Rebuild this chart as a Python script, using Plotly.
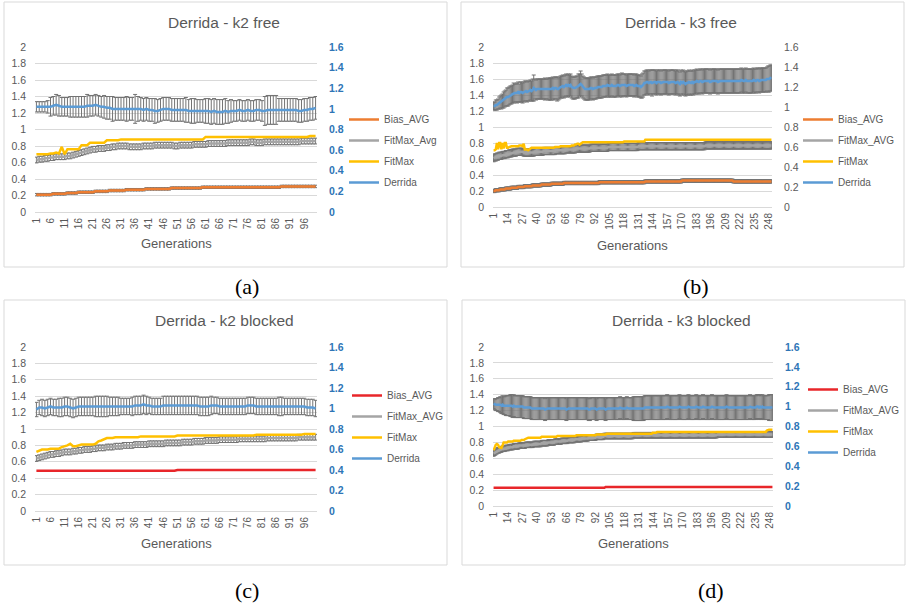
import plotly.graph_objects as go

W, H = 907, 603

# ---------------------------------------------------------------- data
GEN_100 = list(range(1, 101))
GEN_250 = list(range(1, 251))
TICKS_100 = list(range(1, 100, 5))    # 1, 6, ..., 96
TICKS_250 = list(range(1, 250, 13))   # 1, 14, ..., 248

# k2 free (100 generations); Derrida on the secondary axis
A_BIAS = [
    0.21, 0.21, 0.21, 0.21, 0.21, 0.21, 0.22, 0.22, 0.22, 0.22,
    0.22, 0.23, 0.23, 0.23, 0.23, 0.24, 0.24, 0.24, 0.24, 0.24,
    0.24, 0.25, 0.25, 0.25, 0.25, 0.25, 0.26, 0.26, 0.26, 0.26,
    0.26, 0.26, 0.27, 0.27, 0.27, 0.27, 0.27, 0.27, 0.27, 0.28,
    0.28, 0.28, 0.28, 0.28, 0.28, 0.28, 0.28, 0.28, 0.29, 0.29,
    0.29, 0.29, 0.29, 0.29, 0.29, 0.29, 0.29, 0.29, 0.29, 0.30,
    0.30, 0.30, 0.30, 0.30, 0.30, 0.30, 0.30, 0.30, 0.30, 0.30,
    0.30, 0.30, 0.30, 0.30, 0.30, 0.30, 0.30, 0.30, 0.30, 0.30,
    0.30, 0.30, 0.30, 0.30, 0.30, 0.30, 0.30, 0.31, 0.31, 0.31,
    0.31, 0.31, 0.31, 0.31, 0.31, 0.31, 0.31, 0.31, 0.31, 0.31]
A_FITAVG = [
    0.63, 0.64, 0.64, 0.65, 0.65, 0.66, 0.66, 0.67, 0.67, 0.67,
    0.67, 0.68, 0.68, 0.69, 0.70, 0.71, 0.72, 0.73, 0.74, 0.75,
    0.76, 0.76, 0.77, 0.77, 0.77, 0.78, 0.78, 0.79, 0.79, 0.80,
    0.80, 0.80, 0.80, 0.79, 0.79, 0.79, 0.79, 0.79, 0.80, 0.80,
    0.80, 0.80, 0.81, 0.81, 0.81, 0.81, 0.81, 0.81, 0.81, 0.80,
    0.80, 0.81, 0.81, 0.81, 0.81, 0.81, 0.82, 0.82, 0.82, 0.82,
    0.82, 0.83, 0.83, 0.83, 0.83, 0.83, 0.83, 0.83, 0.84, 0.84,
    0.84, 0.84, 0.84, 0.84, 0.84, 0.84, 0.85, 0.85, 0.84, 0.84,
    0.84, 0.85, 0.85, 0.85, 0.85, 0.85, 0.85, 0.85, 0.85, 0.85,
    0.85, 0.85, 0.85, 0.85, 0.86, 0.86, 0.86, 0.86, 0.86, 0.86]
A_FITMAX = [
    0.70, 0.70, 0.70, 0.70, 0.70, 0.71, 0.71, 0.72, 0.71, 0.79,
    0.70, 0.76, 0.76, 0.76, 0.76, 0.76, 0.81, 0.81, 0.81, 0.84,
    0.84, 0.84, 0.84, 0.84, 0.84, 0.87, 0.87, 0.87, 0.87, 0.87,
    0.88, 0.88, 0.88, 0.88, 0.88, 0.88, 0.88, 0.88, 0.88, 0.88,
    0.88, 0.88, 0.88, 0.88, 0.88, 0.88, 0.88, 0.88, 0.88, 0.88,
    0.88, 0.88, 0.88, 0.88, 0.88, 0.88, 0.88, 0.88, 0.88, 0.88,
    0.91, 0.91, 0.91, 0.91, 0.91, 0.91, 0.91, 0.91, 0.91, 0.91,
    0.91, 0.91, 0.91, 0.91, 0.91, 0.91, 0.91, 0.91, 0.91, 0.91,
    0.91, 0.91, 0.91, 0.91, 0.91, 0.91, 0.91, 0.91, 0.91, 0.91,
    0.91, 0.91, 0.91, 0.91, 0.91, 0.91, 0.91, 0.92, 0.92, 0.92]
A_DERRIDA = [
    1.02, 1.02, 1.02, 1.02, 1.02, 1.02, 1.03, 1.04, 1.03, 1.02,
    1.02, 1.02, 1.02, 1.02, 1.02, 1.02, 1.02, 1.02, 1.03, 1.03,
    1.03, 1.04, 1.03, 1.02, 1.02, 1.01, 1.01, 1.00, 1.00, 1.00,
    1.00, 1.00, 1.00, 1.00, 1.00, 1.00, 1.00, 1.00, 0.99, 1.00,
    0.99, 0.99, 0.98, 0.98, 0.99, 1.00, 1.00, 1.00, 0.99, 0.99,
    0.99, 0.99, 0.99, 0.99, 0.98, 0.98, 0.98, 0.98, 0.98, 0.98,
    0.98, 0.98, 0.97, 0.98, 0.97, 0.97, 0.97, 0.98, 0.97, 0.98,
    0.98, 0.98, 0.99, 0.98, 0.98, 0.99, 0.98, 0.98, 0.99, 0.99,
    0.98, 0.98, 0.99, 0.99, 0.99, 0.99, 0.99, 0.99, 0.99, 0.99,
    0.99, 0.99, 0.99, 0.98, 0.98, 0.99, 0.99, 1.00, 1.00, 1.01]
A_DERRIDA_ERR = [
    0.05, 0.05, 0.05, 0.05, 0.06, 0.09, 0.09, 0.10, 0.10, 0.09,
    0.09, 0.09, 0.10, 0.10, 0.10, 0.10, 0.10, 0.10, 0.11, 0.10,
    0.10, 0.10, 0.10, 0.10, 0.11, 0.11, 0.11, 0.12, 0.11, 0.11,
    0.11, 0.11, 0.12, 0.11, 0.11, 0.14, 0.12, 0.11, 0.11, 0.11,
    0.11, 0.11, 0.12, 0.11, 0.11, 0.11, 0.11, 0.11, 0.11, 0.11,
    0.11, 0.11, 0.11, 0.12, 0.11, 0.12, 0.12, 0.11, 0.11, 0.11,
    0.12, 0.12, 0.12, 0.12, 0.12, 0.12, 0.12, 0.12, 0.11, 0.11,
    0.10, 0.10, 0.10, 0.10, 0.10, 0.10, 0.10, 0.10, 0.10, 0.10,
    0.10, 0.14, 0.14, 0.14, 0.14, 0.14, 0.11, 0.11, 0.11, 0.11,
    0.11, 0.11, 0.11, 0.11, 0.11, 0.11, 0.11, 0.11, 0.11, 0.11]
A_BIAS_ERR = 0.015
A_FITAVG_ERR = 0.035

# k3 free (250 generations)
B_BIAS = [
    0.20, 0.20, 0.21, 0.21, 0.21, 0.21, 0.22, 0.22, 0.22, 0.22,
    0.22, 0.23, 0.23, 0.23, 0.23, 0.23, 0.24, 0.24, 0.24, 0.24,
    0.24, 0.24, 0.25, 0.25, 0.25, 0.25, 0.25, 0.25, 0.26, 0.26,
    0.26, 0.26, 0.26, 0.26, 0.26, 0.27, 0.27, 0.27, 0.27, 0.27,
    0.27, 0.27, 0.27, 0.28, 0.28, 0.28, 0.28, 0.28, 0.28, 0.28,
    0.28, 0.28, 0.29, 0.29, 0.29, 0.29, 0.29, 0.29, 0.29, 0.29,
    0.29, 0.29, 0.29, 0.30, 0.30, 0.30, 0.30, 0.30, 0.30, 0.30,
    0.30, 0.30, 0.30, 0.30, 0.30, 0.30, 0.30, 0.30, 0.30, 0.30,
    0.30, 0.30, 0.30, 0.30, 0.30, 0.30, 0.30, 0.30, 0.30, 0.30,
    0.30, 0.30, 0.30, 0.30, 0.30, 0.31, 0.31, 0.31, 0.31, 0.31,
    0.31, 0.31, 0.31, 0.31, 0.31, 0.31, 0.31, 0.31, 0.31, 0.31,
    0.31, 0.31, 0.31, 0.31, 0.31, 0.31, 0.31, 0.31, 0.31, 0.31,
    0.31, 0.31, 0.31, 0.31, 0.31, 0.31, 0.31, 0.31, 0.31, 0.31,
    0.31, 0.31, 0.31, 0.31, 0.31, 0.31, 0.32, 0.32, 0.32, 0.32,
    0.32, 0.32, 0.32, 0.32, 0.32, 0.32, 0.32, 0.32, 0.32, 0.32,
    0.32, 0.32, 0.32, 0.32, 0.32, 0.32, 0.32, 0.32, 0.32, 0.32,
    0.32, 0.32, 0.32, 0.32, 0.32, 0.32, 0.32, 0.32, 0.32, 0.33,
    0.33, 0.33, 0.33, 0.33, 0.33, 0.33, 0.33, 0.33, 0.33, 0.33,
    0.33, 0.33, 0.33, 0.33, 0.33, 0.33, 0.33, 0.33, 0.33, 0.33,
    0.33, 0.33, 0.33, 0.33, 0.33, 0.33, 0.33, 0.33, 0.33, 0.33,
    0.33, 0.33, 0.33, 0.33, 0.33, 0.33, 0.33, 0.33, 0.33, 0.33,
    0.33, 0.33, 0.33, 0.33, 0.33, 0.32, 0.32, 0.32, 0.32, 0.32,
    0.32, 0.32, 0.32, 0.32, 0.32, 0.32, 0.32, 0.32, 0.32, 0.32,
    0.32, 0.32, 0.32, 0.32, 0.32, 0.32, 0.32, 0.32, 0.32, 0.32,
    0.32, 0.32, 0.32, 0.32, 0.32, 0.32, 0.32, 0.32, 0.32, 0.32]
B_FITAVG = [
    0.61, 0.62, 0.62, 0.63, 0.63, 0.64, 0.64, 0.64, 0.65, 0.65,
    0.65, 0.66, 0.66, 0.66, 0.67, 0.67, 0.67, 0.68, 0.68, 0.68,
    0.68, 0.69, 0.69, 0.69, 0.69, 0.69, 0.69, 0.68, 0.68, 0.68,
    0.68, 0.68, 0.68, 0.68, 0.68, 0.68, 0.68, 0.69, 0.69, 0.69,
    0.69, 0.69, 0.69, 0.69, 0.69, 0.70, 0.70, 0.70, 0.70, 0.70,
    0.70, 0.70, 0.70, 0.70, 0.70, 0.70, 0.71, 0.71, 0.71, 0.71,
    0.71, 0.71, 0.71, 0.71, 0.71, 0.72, 0.72, 0.72, 0.72, 0.72,
    0.72, 0.72, 0.72, 0.72, 0.73, 0.73, 0.73, 0.73, 0.73, 0.73,
    0.73, 0.73, 0.73, 0.73, 0.73, 0.73, 0.73, 0.74, 0.74, 0.74,
    0.74, 0.74, 0.74, 0.74, 0.74, 0.74, 0.74, 0.74, 0.74, 0.74,
    0.74, 0.74, 0.74, 0.75, 0.75, 0.75, 0.75, 0.75, 0.75, 0.75,
    0.75, 0.75, 0.75, 0.75, 0.75, 0.75, 0.75, 0.75, 0.75, 0.75,
    0.75, 0.75, 0.75, 0.75, 0.75, 0.75, 0.75, 0.75, 0.75, 0.75,
    0.76, 0.76, 0.76, 0.76, 0.76, 0.76, 0.76, 0.76, 0.76, 0.76,
    0.76, 0.76, 0.76, 0.76, 0.76, 0.76, 0.76, 0.76, 0.76, 0.76,
    0.76, 0.76, 0.76, 0.76, 0.76, 0.76, 0.76, 0.76, 0.76, 0.76,
    0.76, 0.76, 0.76, 0.76, 0.76, 0.76, 0.76, 0.76, 0.76, 0.76,
    0.76, 0.76, 0.76, 0.76, 0.76, 0.76, 0.76, 0.76, 0.76, 0.76,
    0.76, 0.76, 0.76, 0.76, 0.76, 0.76, 0.76, 0.76, 0.76, 0.76,
    0.77, 0.77, 0.77, 0.77, 0.77, 0.77, 0.77, 0.77, 0.77, 0.77,
    0.77, 0.77, 0.77, 0.77, 0.77, 0.77, 0.77, 0.77, 0.77, 0.77,
    0.77, 0.77, 0.77, 0.77, 0.77, 0.77, 0.77, 0.77, 0.77, 0.77,
    0.77, 0.77, 0.77, 0.77, 0.77, 0.77, 0.77, 0.77, 0.77, 0.77,
    0.77, 0.77, 0.77, 0.77, 0.77, 0.77, 0.77, 0.77, 0.77, 0.77,
    0.77, 0.77, 0.77, 0.77, 0.77, 0.77, 0.77, 0.77, 0.77, 0.77]
B_FITMAX = [
    0.71, 0.71, 0.72, 0.80, 0.72, 0.80, 0.80, 0.72, 0.80, 0.73,
    0.80, 0.80, 0.74, 0.74, 0.75, 0.76, 0.76, 0.76, 0.76, 0.76,
    0.76, 0.76, 0.76, 0.77, 0.77, 0.77, 0.76, 0.79, 0.72, 0.72,
    0.72, 0.71, 0.72, 0.74, 0.74, 0.74, 0.74, 0.74, 0.74, 0.74,
    0.74, 0.74, 0.74, 0.74, 0.74, 0.74, 0.74, 0.74, 0.74, 0.74,
    0.74, 0.74, 0.74, 0.74, 0.74, 0.75, 0.75, 0.75, 0.75, 0.75,
    0.76, 0.76, 0.76, 0.76, 0.76, 0.76, 0.76, 0.76, 0.76, 0.76,
    0.77, 0.77, 0.77, 0.78, 0.78, 0.79, 0.79, 0.78, 0.79, 0.81,
    0.81, 0.81, 0.81, 0.81, 0.81, 0.81, 0.81, 0.81, 0.81, 0.81,
    0.81, 0.81, 0.81, 0.81, 0.81, 0.81, 0.81, 0.81, 0.81, 0.81,
    0.81, 0.81, 0.81, 0.81, 0.81, 0.81, 0.81, 0.81, 0.81, 0.81,
    0.81, 0.81, 0.81, 0.81, 0.81, 0.81, 0.81, 0.82, 0.82, 0.82,
    0.82, 0.82, 0.82, 0.82, 0.82, 0.82, 0.82, 0.82, 0.82, 0.82,
    0.82, 0.82, 0.82, 0.82, 0.82, 0.82, 0.84, 0.84, 0.84, 0.84,
    0.84, 0.84, 0.84, 0.84, 0.84, 0.84, 0.84, 0.84, 0.84, 0.84,
    0.84, 0.84, 0.84, 0.84, 0.84, 0.84, 0.84, 0.84, 0.84, 0.84,
    0.84, 0.84, 0.84, 0.84, 0.84, 0.84, 0.84, 0.84, 0.84, 0.84,
    0.84, 0.84, 0.84, 0.84, 0.84, 0.84, 0.84, 0.84, 0.84, 0.84,
    0.84, 0.84, 0.84, 0.84, 0.84, 0.84, 0.84, 0.84, 0.84, 0.84,
    0.84, 0.84, 0.84, 0.84, 0.84, 0.84, 0.84, 0.84, 0.84, 0.84,
    0.84, 0.84, 0.84, 0.84, 0.84, 0.84, 0.84, 0.84, 0.84, 0.84,
    0.84, 0.84, 0.84, 0.84, 0.84, 0.84, 0.84, 0.84, 0.84, 0.84,
    0.84, 0.84, 0.84, 0.84, 0.84, 0.84, 0.84, 0.84, 0.84, 0.84,
    0.84, 0.84, 0.84, 0.84, 0.84, 0.84, 0.84, 0.84, 0.84, 0.84,
    0.84, 0.84, 0.84, 0.84, 0.84, 0.84, 0.84, 0.84, 0.84, 0.84]
B_DERRIDA = [
    1.01, 1.01, 1.02, 1.02, 1.03, 1.04, 1.05, 1.05, 1.06, 1.07,
    1.08, 1.09, 1.10, 1.10, 1.11, 1.12, 1.12, 1.13, 1.14, 1.14,
    1.14, 1.14, 1.15, 1.14, 1.15, 1.15, 1.14, 1.15, 1.16, 1.16,
    1.15, 1.16, 1.16, 1.17, 1.16, 1.17, 1.19, 1.18, 1.17, 1.18,
    1.18, 1.18, 1.18, 1.18, 1.18, 1.18, 1.18, 1.18, 1.18, 1.18,
    1.18, 1.18, 1.18, 1.19, 1.18, 1.19, 1.19, 1.18, 1.18, 1.19,
    1.20, 1.20, 1.21, 1.20, 1.21, 1.22, 1.21, 1.22, 1.21, 1.22,
    1.20, 1.19, 1.19, 1.19, 1.20, 1.20, 1.21, 1.22, 1.23, 1.22,
    1.20, 1.19, 1.18, 1.18, 1.18, 1.18, 1.18, 1.19, 1.19, 1.18,
    1.19, 1.19, 1.19, 1.20, 1.20, 1.20, 1.20, 1.20, 1.21, 1.21,
    1.21, 1.21, 1.22, 1.21, 1.21, 1.21, 1.22, 1.21, 1.21, 1.21,
    1.21, 1.22, 1.22, 1.21, 1.22, 1.22, 1.22, 1.22, 1.22, 1.21,
    1.22, 1.22, 1.22, 1.22, 1.22, 1.22, 1.21, 1.22, 1.22, 1.21,
    1.21, 1.21, 1.20, 1.21, 1.22, 1.24, 1.24, 1.25, 1.25, 1.24,
    1.25, 1.25, 1.24, 1.25, 1.25, 1.25, 1.24, 1.25, 1.25, 1.25,
    1.24, 1.25, 1.25, 1.25, 1.25, 1.25, 1.25, 1.24, 1.25, 1.25,
    1.25, 1.25, 1.25, 1.24, 1.25, 1.25, 1.24, 1.23, 1.25, 1.24,
    1.25, 1.24, 1.23, 1.24, 1.24, 1.25, 1.24, 1.24, 1.25, 1.24,
    1.25, 1.25, 1.26, 1.25, 1.25, 1.26, 1.26, 1.25, 1.26, 1.26,
    1.26, 1.26, 1.26, 1.26, 1.25, 1.26, 1.26, 1.26, 1.26, 1.26,
    1.26, 1.25, 1.26, 1.26, 1.26, 1.26, 1.26, 1.26, 1.26, 1.26,
    1.26, 1.26, 1.26, 1.26, 1.26, 1.26, 1.26, 1.26, 1.26, 1.26,
    1.26, 1.26, 1.27, 1.26, 1.26, 1.26, 1.27, 1.26, 1.26, 1.26,
    1.26, 1.26, 1.26, 1.27, 1.26, 1.26, 1.27, 1.27, 1.26, 1.27,
    1.27, 1.27, 1.27, 1.27, 1.27, 1.28, 1.28, 1.28, 1.29, 1.29]
B_DERRIDA_ERR = [
    0.04, 0.04, 0.05, 0.05, 0.05, 0.06, 0.06, 0.07, 0.07, 0.08,
    0.08, 0.08, 0.09, 0.09, 0.09, 0.09, 0.09, 0.09, 0.10, 0.09,
    0.09, 0.10, 0.10, 0.09, 0.10, 0.10, 0.10, 0.10, 0.10, 0.10,
    0.10, 0.10, 0.10, 0.10, 0.10, 0.11, 0.13, 0.10, 0.10, 0.10,
    0.10, 0.10, 0.10, 0.10, 0.10, 0.10, 0.11, 0.10, 0.10, 0.11,
    0.11, 0.11, 0.11, 0.11, 0.11, 0.11, 0.11, 0.12, 0.11, 0.11,
    0.11, 0.11, 0.11, 0.11, 0.11, 0.11, 0.11, 0.11, 0.11, 0.11,
    0.11, 0.11, 0.11, 0.11, 0.11, 0.11, 0.12, 0.11, 0.13, 0.11,
    0.11, 0.11, 0.11, 0.11, 0.11, 0.11, 0.11, 0.11, 0.11, 0.11,
    0.11, 0.11, 0.11, 0.11, 0.11, 0.11, 0.11, 0.11, 0.11, 0.11,
    0.11, 0.11, 0.11, 0.11, 0.11, 0.11, 0.11, 0.11, 0.11, 0.11,
    0.11, 0.11, 0.11, 0.11, 0.11, 0.12, 0.11, 0.11, 0.11, 0.11,
    0.11, 0.11, 0.11, 0.11, 0.11, 0.11, 0.11, 0.11, 0.11, 0.11,
    0.11, 0.11, 0.11, 0.12, 0.12, 0.12, 0.12, 0.12, 0.12, 0.12,
    0.12, 0.12, 0.13, 0.12, 0.12, 0.12, 0.12, 0.12, 0.12, 0.12,
    0.12, 0.12, 0.12, 0.12, 0.12, 0.12, 0.12, 0.12, 0.12, 0.12,
    0.12, 0.12, 0.12, 0.12, 0.12, 0.12, 0.12, 0.12, 0.12, 0.12,
    0.12, 0.12, 0.12, 0.12, 0.12, 0.12, 0.12, 0.12, 0.12, 0.12,
    0.12, 0.12, 0.12, 0.12, 0.12, 0.12, 0.12, 0.12, 0.12, 0.12,
    0.12, 0.12, 0.12, 0.12, 0.12, 0.12, 0.12, 0.12, 0.12, 0.12,
    0.12, 0.12, 0.12, 0.12, 0.12, 0.12, 0.12, 0.12, 0.12, 0.12,
    0.12, 0.12, 0.12, 0.12, 0.12, 0.12, 0.12, 0.12, 0.12, 0.12,
    0.12, 0.12, 0.12, 0.12, 0.12, 0.12, 0.12, 0.12, 0.12, 0.12,
    0.12, 0.12, 0.12, 0.12, 0.12, 0.12, 0.12, 0.12, 0.12, 0.12,
    0.12, 0.12, 0.12, 0.12, 0.12, 0.12, 0.13, 0.13, 0.13, 0.13]
B_BIAS_ERR = 0.02
B_FITAVG_ERR = 0.045

# k2 blocked (100 generations)
C_BIAS = [
    0.49, 0.49, 0.49, 0.49, 0.49, 0.49, 0.49, 0.49, 0.49, 0.49,
    0.49, 0.49, 0.49, 0.49, 0.49, 0.49, 0.49, 0.49, 0.49, 0.49,
    0.49, 0.49, 0.49, 0.49, 0.49, 0.49, 0.49, 0.49, 0.49, 0.49,
    0.49, 0.49, 0.49, 0.49, 0.49, 0.49, 0.49, 0.49, 0.49, 0.49,
    0.49, 0.49, 0.49, 0.49, 0.49, 0.49, 0.49, 0.49, 0.49, 0.49,
    0.50, 0.50, 0.50, 0.50, 0.50, 0.50, 0.50, 0.50, 0.50, 0.50,
    0.50, 0.50, 0.50, 0.50, 0.50, 0.50, 0.50, 0.50, 0.50, 0.50,
    0.50, 0.50, 0.50, 0.50, 0.50, 0.50, 0.50, 0.50, 0.50, 0.50,
    0.50, 0.50, 0.50, 0.50, 0.50, 0.50, 0.50, 0.50, 0.50, 0.50,
    0.50, 0.50, 0.50, 0.50, 0.50, 0.50, 0.50, 0.50, 0.50, 0.50]
C_FITAVG = [
    0.64, 0.65, 0.66, 0.67, 0.68, 0.69, 0.69, 0.70, 0.70, 0.71,
    0.72, 0.72, 0.72, 0.73, 0.73, 0.74, 0.74, 0.75, 0.75, 0.75,
    0.76, 0.76, 0.77, 0.77, 0.77, 0.78, 0.78, 0.78, 0.79, 0.79,
    0.79, 0.80, 0.80, 0.80, 0.80, 0.81, 0.81, 0.81, 0.81, 0.81,
    0.82, 0.82, 0.82, 0.82, 0.82, 0.82, 0.83, 0.83, 0.83, 0.83,
    0.83, 0.83, 0.84, 0.84, 0.84, 0.84, 0.85, 0.85, 0.85, 0.85,
    0.86, 0.86, 0.86, 0.86, 0.86, 0.87, 0.87, 0.87, 0.87, 0.87,
    0.87, 0.87, 0.88, 0.88, 0.88, 0.88, 0.88, 0.88, 0.88, 0.88,
    0.88, 0.88, 0.89, 0.89, 0.89, 0.89, 0.89, 0.89, 0.89, 0.89,
    0.89, 0.89, 0.89, 0.90, 0.90, 0.90, 0.90, 0.90, 0.90, 0.90]
C_FITMAX = [
    0.72, 0.74, 0.75, 0.75, 0.75, 0.76, 0.76, 0.76, 0.76, 0.78,
    0.79, 0.80, 0.82, 0.79, 0.79, 0.80, 0.81, 0.81, 0.81, 0.81,
    0.81, 0.82, 0.85, 0.86, 0.88, 0.89, 0.89, 0.89, 0.90, 0.90,
    0.90, 0.90, 0.90, 0.90, 0.90, 0.90, 0.90, 0.91, 0.91, 0.91,
    0.91, 0.91, 0.91, 0.91, 0.91, 0.91, 0.91, 0.91, 0.91, 0.91,
    0.92, 0.92, 0.92, 0.92, 0.92, 0.92, 0.92, 0.92, 0.92, 0.92,
    0.92, 0.92, 0.92, 0.92, 0.92, 0.92, 0.92, 0.92, 0.92, 0.92,
    0.92, 0.92, 0.92, 0.92, 0.92, 0.92, 0.92, 0.92, 0.93, 0.93,
    0.93, 0.93, 0.93, 0.93, 0.93, 0.93, 0.93, 0.93, 0.93, 0.93,
    0.93, 0.93, 0.93, 0.93, 0.93, 0.94, 0.94, 0.94, 0.94, 0.94]
C_DERRIDA = [
    0.99, 1.01, 1.01, 1.00, 1.01, 1.02, 1.01, 1.01, 1.01, 1.01,
    1.02, 1.02, 1.01, 1.00, 1.01, 1.02, 1.02, 1.02, 1.02, 1.02,
    1.02, 1.02, 1.02, 1.02, 1.02, 1.02, 1.02, 1.02, 1.02, 1.02,
    1.02, 1.02, 1.02, 1.02, 1.02, 1.03, 1.03, 1.03, 1.04, 1.03,
    1.03, 1.02, 1.02, 1.02, 1.02, 1.03, 1.03, 1.03, 1.03, 1.03,
    1.03, 1.03, 1.03, 1.03, 1.03, 1.03, 1.03, 1.03, 1.02, 1.02,
    1.02, 1.02, 1.03, 1.03, 1.03, 1.02, 1.02, 1.02, 1.02, 1.02,
    1.02, 1.02, 1.02, 1.02, 1.02, 1.03, 1.03, 1.03, 1.02, 1.02,
    1.02, 1.02, 1.02, 1.02, 1.02, 1.02, 1.02, 1.02, 1.02, 1.02,
    1.02, 1.02, 1.02, 1.02, 1.02, 1.02, 1.01, 1.01, 1.01, 1.00]
C_DERRIDA_ERR = [
    0.07, 0.07, 0.08, 0.08, 0.08, 0.08, 0.08, 0.08, 0.09, 0.09,
    0.09, 0.09, 0.09, 0.09, 0.09, 0.09, 0.09, 0.09, 0.09, 0.09,
    0.09, 0.10, 0.10, 0.10, 0.10, 0.10, 0.09, 0.09, 0.09, 0.09,
    0.08, 0.08, 0.08, 0.08, 0.09, 0.09, 0.09, 0.09, 0.09, 0.09,
    0.08, 0.08, 0.08, 0.08, 0.08, 0.09, 0.09, 0.09, 0.09, 0.09,
    0.09, 0.09, 0.09, 0.09, 0.09, 0.09, 0.09, 0.09, 0.09, 0.09,
    0.09, 0.09, 0.09, 0.08, 0.08, 0.08, 0.08, 0.08, 0.08, 0.08,
    0.08, 0.08, 0.08, 0.08, 0.08, 0.08, 0.08, 0.08, 0.08, 0.08,
    0.08, 0.08, 0.08, 0.08, 0.08, 0.08, 0.09, 0.09, 0.08, 0.08,
    0.08, 0.08, 0.08, 0.08, 0.08, 0.08, 0.08, 0.08, 0.08, 0.08]
C_FITAVG_ERR = 0.035

# k3 blocked (250 generations)
D_BIAS = [
    0.23, 0.23, 0.23, 0.23, 0.23, 0.23, 0.23, 0.23, 0.23, 0.23,
    0.23, 0.23, 0.23, 0.23, 0.23, 0.23, 0.23, 0.23, 0.23, 0.23,
    0.23, 0.23, 0.23, 0.23, 0.23, 0.23, 0.23, 0.23, 0.23, 0.23,
    0.23, 0.23, 0.23, 0.23, 0.23, 0.23, 0.23, 0.23, 0.23, 0.23,
    0.23, 0.23, 0.23, 0.23, 0.23, 0.23, 0.23, 0.23, 0.23, 0.23,
    0.23, 0.23, 0.23, 0.23, 0.23, 0.23, 0.23, 0.23, 0.23, 0.23,
    0.23, 0.23, 0.23, 0.23, 0.23, 0.23, 0.23, 0.23, 0.23, 0.23,
    0.23, 0.23, 0.23, 0.23, 0.23, 0.23, 0.23, 0.23, 0.23, 0.23,
    0.23, 0.23, 0.23, 0.23, 0.23, 0.23, 0.23, 0.23, 0.23, 0.23,
    0.23, 0.23, 0.23, 0.23, 0.23, 0.23, 0.23, 0.23, 0.23, 0.23,
    0.24, 0.24, 0.24, 0.24, 0.24, 0.24, 0.24, 0.24, 0.24, 0.24,
    0.24, 0.24, 0.24, 0.24, 0.24, 0.24, 0.24, 0.24, 0.24, 0.24,
    0.24, 0.24, 0.24, 0.24, 0.24, 0.24, 0.24, 0.24, 0.24, 0.24,
    0.24, 0.24, 0.24, 0.24, 0.24, 0.24, 0.24, 0.24, 0.24, 0.24,
    0.24, 0.24, 0.24, 0.24, 0.24, 0.24, 0.24, 0.24, 0.24, 0.24,
    0.24, 0.24, 0.24, 0.24, 0.24, 0.24, 0.24, 0.24, 0.24, 0.24,
    0.24, 0.24, 0.24, 0.24, 0.24, 0.24, 0.24, 0.24, 0.24, 0.24,
    0.24, 0.24, 0.24, 0.24, 0.24, 0.24, 0.24, 0.24, 0.24, 0.24,
    0.24, 0.24, 0.24, 0.24, 0.24, 0.24, 0.24, 0.24, 0.24, 0.24,
    0.24, 0.24, 0.24, 0.24, 0.24, 0.24, 0.24, 0.24, 0.24, 0.24,
    0.24, 0.24, 0.24, 0.24, 0.24, 0.24, 0.24, 0.24, 0.24, 0.24,
    0.24, 0.24, 0.24, 0.24, 0.24, 0.24, 0.24, 0.24, 0.24, 0.24,
    0.24, 0.24, 0.24, 0.24, 0.24, 0.24, 0.24, 0.24, 0.24, 0.24,
    0.24, 0.24, 0.24, 0.24, 0.24, 0.24, 0.24, 0.24, 0.24, 0.24,
    0.24, 0.24, 0.24, 0.24, 0.24, 0.24, 0.24, 0.24, 0.24, 0.24]
D_FITAVG = [
    0.66, 0.67, 0.68, 0.69, 0.70, 0.70, 0.71, 0.71, 0.72, 0.72,
    0.72, 0.73, 0.73, 0.73, 0.74, 0.74, 0.74, 0.74, 0.75, 0.75,
    0.75, 0.75, 0.75, 0.76, 0.76, 0.76, 0.76, 0.76, 0.76, 0.77,
    0.77, 0.77, 0.77, 0.77, 0.77, 0.77, 0.78, 0.78, 0.78, 0.78,
    0.78, 0.78, 0.78, 0.79, 0.79, 0.79, 0.79, 0.79, 0.79, 0.80,
    0.80, 0.80, 0.80, 0.80, 0.80, 0.81, 0.81, 0.81, 0.81, 0.81,
    0.81, 0.82, 0.82, 0.82, 0.82, 0.82, 0.82, 0.83, 0.83, 0.83,
    0.83, 0.83, 0.83, 0.84, 0.84, 0.84, 0.84, 0.84, 0.84, 0.85,
    0.85, 0.85, 0.85, 0.85, 0.85, 0.86, 0.86, 0.86, 0.86, 0.86,
    0.86, 0.86, 0.87, 0.87, 0.87, 0.87, 0.87, 0.87, 0.87, 0.88,
    0.88, 0.88, 0.88, 0.88, 0.88, 0.88, 0.88, 0.88, 0.88, 0.88,
    0.88, 0.88, 0.88, 0.88, 0.88, 0.88, 0.88, 0.88, 0.88, 0.88,
    0.88, 0.88, 0.88, 0.88, 0.88, 0.89, 0.89, 0.89, 0.89, 0.89,
    0.89, 0.89, 0.89, 0.89, 0.89, 0.89, 0.89, 0.89, 0.89, 0.89,
    0.89, 0.89, 0.89, 0.89, 0.89, 0.89, 0.89, 0.89, 0.89, 0.89,
    0.89, 0.89, 0.89, 0.89, 0.89, 0.89, 0.89, 0.89, 0.89, 0.89,
    0.89, 0.89, 0.89, 0.89, 0.89, 0.89, 0.89, 0.89, 0.89, 0.89,
    0.89, 0.89, 0.89, 0.89, 0.89, 0.89, 0.89, 0.89, 0.89, 0.89,
    0.89, 0.89, 0.89, 0.89, 0.89, 0.89, 0.89, 0.89, 0.89, 0.89,
    0.89, 0.89, 0.89, 0.89, 0.89, 0.89, 0.89, 0.89, 0.89, 0.89,
    0.90, 0.90, 0.90, 0.90, 0.90, 0.90, 0.90, 0.90, 0.90, 0.90,
    0.90, 0.90, 0.90, 0.90, 0.90, 0.90, 0.90, 0.90, 0.90, 0.90,
    0.90, 0.90, 0.90, 0.90, 0.90, 0.90, 0.90, 0.90, 0.90, 0.90,
    0.90, 0.90, 0.90, 0.90, 0.90, 0.90, 0.90, 0.90, 0.90, 0.90,
    0.90, 0.90, 0.90, 0.90, 0.90, 0.90, 0.90, 0.90, 0.90, 0.90]
D_FITMAX = [
    0.70, 0.74, 0.77, 0.78, 0.77, 0.74, 0.73, 0.73, 0.76, 0.80,
    0.80, 0.80, 0.80, 0.81, 0.81, 0.81, 0.81, 0.81, 0.82, 0.82,
    0.82, 0.82, 0.82, 0.82, 0.82, 0.83, 0.83, 0.83, 0.84, 0.85,
    0.86, 0.86, 0.86, 0.86, 0.86, 0.86, 0.86, 0.86, 0.86, 0.86,
    0.86, 0.86, 0.86, 0.87, 0.87, 0.87, 0.87, 0.87, 0.87, 0.87,
    0.87, 0.87, 0.87, 0.87, 0.87, 0.87, 0.87, 0.88, 0.88, 0.88,
    0.88, 0.88, 0.88, 0.88, 0.88, 0.88, 0.88, 0.88, 0.88, 0.88,
    0.88, 0.88, 0.88, 0.88, 0.89, 0.89, 0.89, 0.89, 0.89, 0.89,
    0.89, 0.89, 0.89, 0.89, 0.89, 0.89, 0.89, 0.89, 0.89, 0.89,
    0.89, 0.89, 0.90, 0.90, 0.90, 0.90, 0.90, 0.90, 0.90, 0.90,
    0.90, 0.91, 0.91, 0.91, 0.91, 0.91, 0.91, 0.91, 0.91, 0.91,
    0.91, 0.91, 0.91, 0.91, 0.91, 0.91, 0.91, 0.91, 0.91, 0.91,
    0.91, 0.91, 0.91, 0.91, 0.91, 0.91, 0.91, 0.91, 0.91, 0.91,
    0.91, 0.91, 0.91, 0.91, 0.91, 0.91, 0.91, 0.91, 0.91, 0.91,
    0.91, 0.91, 0.92, 0.92, 0.92, 0.92, 0.93, 0.93, 0.93, 0.93,
    0.93, 0.93, 0.93, 0.93, 0.93, 0.93, 0.93, 0.93, 0.93, 0.93,
    0.93, 0.93, 0.93, 0.93, 0.93, 0.93, 0.93, 0.93, 0.93, 0.93,
    0.93, 0.93, 0.93, 0.93, 0.93, 0.93, 0.93, 0.93, 0.93, 0.93,
    0.93, 0.93, 0.93, 0.93, 0.93, 0.93, 0.93, 0.93, 0.93, 0.93,
    0.93, 0.93, 0.93, 0.93, 0.93, 0.93, 0.93, 0.93, 0.93, 0.93,
    0.93, 0.93, 0.93, 0.93, 0.93, 0.93, 0.93, 0.93, 0.93, 0.93,
    0.93, 0.93, 0.93, 0.93, 0.93, 0.93, 0.93, 0.93, 0.93, 0.93,
    0.93, 0.93, 0.93, 0.93, 0.93, 0.93, 0.93, 0.93, 0.93, 0.93,
    0.93, 0.93, 0.93, 0.93, 0.93, 0.93, 0.93, 0.93, 0.93, 0.93,
    0.93, 0.93, 0.93, 0.93, 0.95, 0.96, 0.96, 0.96, 0.96, 0.96]
D_DERRIDA = [
    1.03, 1.02, 1.02, 1.02, 1.02, 1.02, 1.02, 1.01, 1.02, 1.01,
    1.01, 1.01, 1.01, 1.01, 1.01, 1.01, 1.01, 1.00, 1.01, 1.00,
    1.00, 1.00, 1.00, 1.00, 1.00, 1.00, 1.00, 0.99, 0.99, 0.99,
    0.99, 0.99, 0.99, 0.99, 0.98, 0.98, 0.98, 0.98, 0.98, 0.98,
    0.98, 0.98, 0.98, 0.98, 0.98, 0.98, 0.97, 0.98, 0.98, 0.98,
    0.98, 0.98, 0.98, 0.98, 0.98, 0.98, 0.98, 0.98, 0.98, 0.98,
    0.98, 0.98, 0.98, 0.98, 0.98, 0.97, 0.98, 0.98, 0.98, 0.98,
    0.98, 0.98, 0.98, 0.98, 0.98, 0.98, 0.98, 0.98, 0.98, 0.98,
    0.98, 0.98, 0.98, 0.98, 0.98, 0.97, 0.97, 0.98, 0.98, 0.98,
    0.98, 0.98, 0.97, 0.98, 0.98, 0.98, 0.98, 0.98, 0.98, 0.98,
    0.97, 0.98, 0.98, 0.98, 0.98, 0.98, 0.98, 0.98, 0.98, 0.98,
    0.98, 0.98, 0.98, 0.99, 0.98, 0.98, 0.98, 0.98, 0.98, 0.99,
    0.98, 0.98, 0.98, 0.98, 0.98, 0.98, 0.98, 0.98, 0.98, 0.98,
    0.98, 0.98, 0.98, 0.98, 0.98, 0.99, 0.99, 0.99, 0.99, 0.99,
    0.99, 0.99, 0.99, 0.99, 0.99, 0.99, 0.99, 0.99, 0.99, 0.99,
    0.99, 0.99, 0.99, 0.99, 0.99, 1.00, 0.99, 0.99, 0.99, 0.99,
    0.99, 0.99, 0.99, 0.99, 0.99, 0.99, 1.00, 0.99, 0.99, 0.99,
    0.99, 0.99, 0.99, 0.99, 1.00, 0.99, 0.99, 0.99, 0.99, 0.99,
    0.99, 1.00, 0.99, 0.99, 0.99, 0.99, 0.99, 1.00, 0.99, 0.99,
    0.99, 0.99, 0.99, 0.99, 0.99, 1.00, 0.99, 0.99, 0.99, 0.99,
    0.99, 0.99, 0.99, 0.99, 0.99, 0.99, 0.99, 0.99, 1.00, 0.99,
    0.99, 0.99, 0.99, 0.99, 0.99, 0.99, 0.99, 0.99, 0.99, 0.99,
    0.99, 0.99, 0.99, 0.99, 0.99, 0.99, 0.99, 0.99, 0.99, 1.00,
    0.99, 0.99, 0.99, 0.99, 0.99, 1.00, 1.00, 0.99, 1.00, 0.99,
    1.00, 0.99, 0.99, 0.99, 0.99, 0.99, 0.99, 0.99, 0.99, 0.99]
D_DERRIDA_ERR = [
    0.05, 0.05, 0.06, 0.06, 0.07, 0.07, 0.08, 0.08, 0.09, 0.09,
    0.09, 0.10, 0.10, 0.10, 0.10, 0.11, 0.11, 0.11, 0.11, 0.11,
    0.11, 0.11, 0.11, 0.11, 0.11, 0.11, 0.11, 0.11, 0.11, 0.11,
    0.11, 0.11, 0.11, 0.11, 0.11, 0.11, 0.11, 0.11, 0.11, 0.11,
    0.11, 0.11, 0.11, 0.11, 0.11, 0.11, 0.11, 0.11, 0.11, 0.11,
    0.11, 0.11, 0.11, 0.11, 0.11, 0.11, 0.11, 0.11, 0.11, 0.11,
    0.11, 0.11, 0.11, 0.11, 0.11, 0.11, 0.11, 0.11, 0.11, 0.11,
    0.11, 0.11, 0.11, 0.11, 0.11, 0.11, 0.11, 0.11, 0.11, 0.11,
    0.11, 0.11, 0.11, 0.11, 0.11, 0.11, 0.11, 0.11, 0.11, 0.11,
    0.11, 0.11, 0.11, 0.11, 0.11, 0.11, 0.11, 0.11, 0.11, 0.11,
    0.11, 0.11, 0.11, 0.11, 0.11, 0.11, 0.11, 0.11, 0.11, 0.11,
    0.11, 0.11, 0.11, 0.11, 0.11, 0.11, 0.11, 0.11, 0.11, 0.11,
    0.11, 0.11, 0.11, 0.11, 0.11, 0.12, 0.12, 0.12, 0.12, 0.12,
    0.12, 0.12, 0.12, 0.12, 0.12, 0.12, 0.12, 0.12, 0.12, 0.12,
    0.12, 0.12, 0.12, 0.12, 0.12, 0.12, 0.12, 0.12, 0.12, 0.12,
    0.12, 0.12, 0.12, 0.12, 0.12, 0.12, 0.12, 0.12, 0.12, 0.12,
    0.12, 0.12, 0.12, 0.12, 0.12, 0.12, 0.12, 0.12, 0.12, 0.12,
    0.12, 0.12, 0.12, 0.12, 0.12, 0.12, 0.12, 0.12, 0.12, 0.12,
    0.12, 0.12, 0.12, 0.12, 0.12, 0.12, 0.12, 0.12, 0.12, 0.12,
    0.12, 0.12, 0.12, 0.12, 0.12, 0.12, 0.12, 0.12, 0.12, 0.12,
    0.12, 0.12, 0.12, 0.12, 0.12, 0.12, 0.12, 0.12, 0.12, 0.12,
    0.12, 0.12, 0.12, 0.12, 0.12, 0.12, 0.12, 0.12, 0.12, 0.12,
    0.12, 0.12, 0.12, 0.12, 0.12, 0.12, 0.12, 0.12, 0.12, 0.12,
    0.12, 0.12, 0.12, 0.12, 0.12, 0.12, 0.12, 0.12, 0.12, 0.12,
    0.12, 0.12, 0.12, 0.12, 0.12, 0.12, 0.13, 0.13, 0.13, 0.13]
D_FITAVG_ERR = 0.035

# ---------------------------------------------------------------- styles
ORANGE, GREY, GOLD, BLUE, RED = "#ED7D31", "#A5A5A5", "#FFC000", "#5B9BD5", "#E8262A"
AXIS_BLUE = "#2E75B6"
TEXT = "#595959"
GRID = "#D9D9D9"
ERR = "#737373"
FONT = "Liberation Sans, Arial, sans-serif"

PANELS = [
    dict(title="Derrida - k2 free", cap="(a)", gens=GEN_100, ticks=TICKS_100,
         bias=A_BIAS, bias_err=A_BIAS_ERR, bias_color=ORANGE,
         fitavg=A_FITAVG, fitavg_err=A_FITAVG_ERR, fitavg_name="FitMax_Avg",
         fitmax=A_FITMAX, derrida=A_DERRIDA, derrida_err=A_DERRIDA_ERR,
         right_color=AXIS_BLUE, right_bold=True,
         box=(4, 2, 447, 267), plot=(35, 47, 317, 212), legend=(344, 105),
         gen_y=244, cap_xy=(247, 287)),
    dict(title="Derrida - k3 free", cap="(b)", gens=GEN_250, ticks=TICKS_250,
         bias=B_BIAS, bias_err=B_BIAS_ERR, bias_color=ORANGE,
         fitavg=B_FITAVG, fitavg_err=B_FITAVG_ERR, fitavg_name="FitMax_AVG",
         fitmax=B_FITMAX, derrida=B_DERRIDA, derrida_err=B_DERRIDA_ERR,
         right_color=TEXT, right_bold=False,
         box=(461, 2, 904, 267), plot=(493, 47, 772, 207), legend=(798, 105),
         gen_y=245, cap_xy=(696, 286)),
    dict(title="Derrida - k2 blocked", cap="(c)", gens=GEN_100, ticks=TICKS_100,
         bias=C_BIAS, bias_err=None, bias_color=RED,
         fitavg=C_FITAVG, fitavg_err=C_FITAVG_ERR, fitavg_name="FitMax_AVG",
         fitmax=C_FITMAX, derrida=C_DERRIDA, derrida_err=C_DERRIDA_ERR,
         right_color=AXIS_BLUE, right_bold=True,
         box=(4, 300, 447, 565), plot=(35, 347, 317, 511), legend=(347, 381),
         gen_y=543, cap_xy=(247, 590)),
    dict(title="Derrida - k3 blocked", cap="(d)", gens=GEN_250, ticks=TICKS_250,
         bias=D_BIAS, bias_err=None, bias_color=RED,
         fitavg=D_FITAVG, fitavg_err=D_FITAVG_ERR, fitavg_name="FitMax_AVG",
         fitmax=D_FITMAX, derrida=D_DERRIDA, derrida_err=D_DERRIDA_ERR,
         right_color=AXIS_BLUE, right_bold=True,
         box=(462, 300, 905, 565), plot=(493, 347, 773, 506), legend=(803, 375),
         gen_y=543, cap_xy=(711, 590)),
]


def fx(x):
    return x / W


def fy(y):
    return 1 - y / H


def err_spec(err):
    if err is None:
        return None
    base = dict(color=ERR, thickness=1, width=2)
    if isinstance(err, list):
        return dict(type="data", array=err, symmetric=True, **base)
    return dict(type="constant", value=err, **base)


fig = go.Figure()
layout = {}
shapes, annotations = [], []

for i, p in enumerate(PANELS, start=1):
    xname = "x" if i == 1 else f"x{i}"
    yl = "y" if i == 1 else f"y{2 * i - 1}"
    yr = f"y{2 * i}"
    leg = "legend" if i == 1 else f"legend{i}"
    x0, y0, x1, y1 = p["plot"]
    n = len(p["gens"])

    series = [
        ("Bias_AVG", p["bias"], p["bias_color"], p["bias_err"], yl),
        (p["fitavg_name"], p["fitavg"], GREY, p["fitavg_err"], yl),
        ("FitMax", p["fitmax"], GOLD, None, yl),
        ("Derrida", p["derrida"], BLUE, p["derrida_err"], yr),
    ]
    for name, ys, color, err, yref in series:
        fig.add_trace(go.Scatter(
            x=p["gens"], y=ys, mode="lines", name=name,
            line=dict(color=color, width=2.5),
            error_y=err_spec(err),
            xaxis=xname, yaxis=yref, legend=leg,
            legendgroup=f"{i}-{name}", showlegend=True,
        ))

    layout["xaxis" if i == 1 else f"xaxis{i}"] = dict(
        domain=[fx(x0), fx(x1)], anchor=yl, range=[0.5, n + 0.5],
        tickmode="array", tickvals=p["ticks"], ticktext=[str(t) for t in p["ticks"]],
        tickangle=-90, tickfont=dict(family=FONT, size=10, color=TEXT),
        showgrid=False, zeroline=False, showline=False, ticks="",
        ticklabelstandoff=3, automargin=False,
    )
    layout["yaxis" if i == 1 else f"yaxis{2 * i - 1}"] = dict(
        domain=[fy(y1), fy(y0)], anchor=xname, range=[0, 2], tick0=0, dtick=0.2,
        showgrid=True, gridcolor=GRID, gridwidth=1,
        zeroline=True, zerolinecolor=GRID, zerolinewidth=1, showline=False,
        ticks="", tickfont=dict(family=FONT, size=10.5, color=TEXT),
        ticklabelstandoff=8, automargin=False,
    )
    layout[f"yaxis{2 * i}"] = dict(
        overlaying=yl, side="right", anchor=xname, range=[0, 1.6], tick0=0, dtick=0.2,
        showgrid=False, zeroline=False, showline=False, ticks="",
        tickfont=dict(family=FONT, size=10.5, color=p["right_color"],
                      weight="bold" if p["right_bold"] else "normal"),
        ticklabelstandoff=11, automargin=False,
    )
    lx, ly = p["legend"]
    layout[leg] = dict(
        x=fx(lx), y=fy(ly), xanchor="left", yanchor="top",
        font=dict(family=FONT, size=10, color=TEXT),
        bgcolor="rgba(0,0,0,0)", traceorder="grouped", tracegroupgap=2,
        itemwidth=30,
    )

    bx0, by0, bx1, by1 = p["box"]
    shapes.append(dict(type="rect", xref="paper", yref="paper",
                       x0=fx(bx0), x1=fx(bx1), y0=fy(by1), y1=fy(by0),
                       line=dict(color=GRID, width=1), fillcolor="rgba(0,0,0,0)",
                       layer="below"))
    annotations.append(dict(text=p["title"], x=fx((x0 + x1) / 2 + 48), y=fy(by0 + 20),
                            xref="paper", yref="paper", showarrow=False,
                            xanchor="center", yanchor="middle",
                            font=dict(family=FONT, size=15.5, color=TEXT)))
    annotations.append(dict(text="Generations", x=fx((x0 + x1) / 2), y=fy(p["gen_y"]),
                            xref="paper", yref="paper", showarrow=False,
                            xanchor="center", yanchor="middle",
                            font=dict(family=FONT, size=13, color=TEXT)))
    annotations.append(dict(text=p["cap"], x=fx(p["cap_xy"][0]), y=fy(p["cap_xy"][1]),
                            xref="paper", yref="paper", showarrow=False,
                            xanchor="center", yanchor="middle",
                            font=dict(family="Liberation Serif, Times New Roman, serif",
                                      size=22, color="#000000")))

fig.update_layout(
    width=W, height=H, margin=dict(l=0, r=0, t=0, b=0, autoexpand=False),
    paper_bgcolor="white", plot_bgcolor="rgba(0,0,0,0)",
    shapes=shapes, annotations=annotations, showlegend=True,
    **layout,
)

fig.write_html("out.html")
